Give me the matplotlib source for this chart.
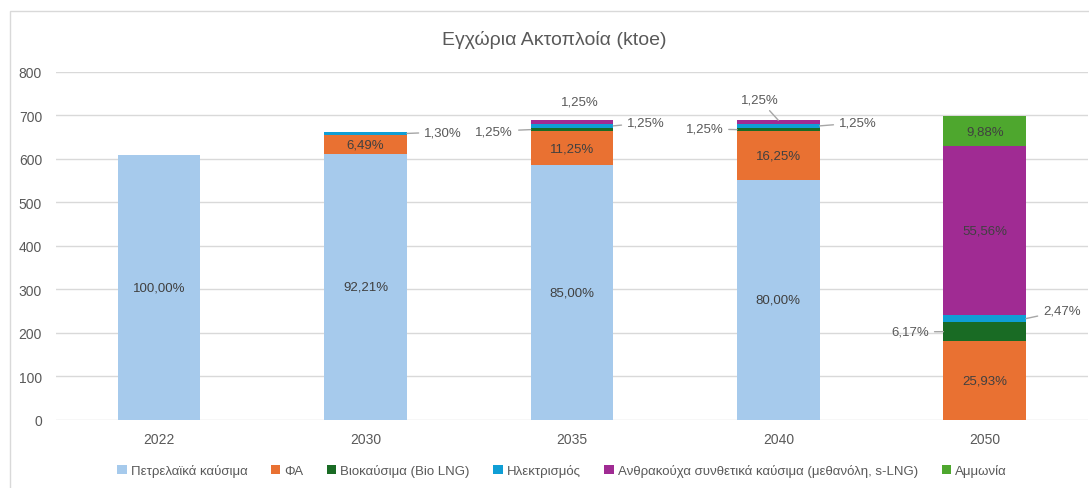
import numpy as np
import matplotlib.pyplot as plt
from matplotlib.patches import Rectangle

plt.rcParams['font.family'] = ['Liberation Sans', 'DejaVu Sans']

# ---------------- data ----------------
years = ['2022', '2030', '2035', '2040', '2050']
totals = [608, 662, 688, 688, 697]          # ktoe

series_names = ['Πετρελαϊκά καύσιμα', 'ΦΑ', 'Βιοκαύσιμα (Bio LNG)', 'Ηλεκτρισμός',
                'Ανθρακούχα συνθετικά καύσιμα (μεθανόλη, s-LNG)', 'Αμμωνία']
colors = ['#A6CAEC', '#E97132', '#196B24', '#0F9ED5', '#A02B93', '#4EA72E']

# shares in % per year (from the data labels)
oil_pct = [100.00, 92.21, 85.00, 80.00, 0]
fa_pct = [0, 6.49, 11.25, 16.25, 25.93]
bio_pct = [0, 0, 1.25, 1.25, 6.17]
elec_pct = [0, 1.30, 1.25, 1.25, 2.47]
synth_pct = [0, 0, 1.25, 1.25, 55.56]
ammonia_pct = [0, 0, 0, 0, 9.88]

shares = [oil_pct, fa_pct, bio_pct, elec_pct, synth_pct, ammonia_pct]

# labels for thin segments placed outside: (series, year) -> (x, y, ha, leader)
outside = {
    (3, 1): (1.284, 661, 'left', True),
    (2, 2): (1.715, 663, 'right', True),
    (3, 2): (2.267, 682, 'left', True),
    (4, 2): (2.04, 730, 'center', False),
    (2, 3): (2.733, 668, 'right', True),
    (3, 3): (3.294, 682, 'left', True),
    (4, 3): (2.91, 735, 'center', True),
    (2, 4): (3.73, 202, 'right', True),
    (3, 4): (4.283, 250, 'left', True),
}

# ---------------- plot ----------------
fig = plt.figure(figsize=(10.89, 4.89), dpi=100)
ax = fig.add_axes([0.0514, 0.1397, 0.9476, 0.712])

x = np.arange(len(years))
width = 0.4
bottom = np.zeros(len(years))

for s, (name, pct, col) in enumerate(zip(series_names, shares, colors)):
    vals = np.array(totals) * np.array(pct) / 100
    ax.bar(x, vals, width, bottom=bottom, color=col, label=name, zorder=3)
    for i, v in enumerate(vals):
        if v <= 0:
            continue
        mid = bottom[i] + v / 2
        txt = f'{pct[i]:.2f}%'.replace('.', ',')
        if (s, i) in outside:
            tx, ty, ha, leader = outside[(s, i)]
            if ha == 'left':
                px = i + width / 2
            elif ha == 'right':
                px = i - width / 2
            else:
                px = i
                mid = bottom[i] + v
            if leader:
                ax.annotate(txt, xy=(px, mid), xytext=(tx, ty), ha=ha, va='center',
                            fontsize=9.5, color='#595959',
                            arrowprops=dict(arrowstyle='-', color='#A6A6A6', lw=1,
                                            shrinkA=2, shrinkB=0))
            else:
                ax.text(tx, ty, txt, ha=ha, va='center', fontsize=9.5, color='#595959')
        else:
            ax.text(i, mid, txt, ha='center', va='center', fontsize=9.5, color='#404040',
                    zorder=4)
    bottom += vals

ax.set_xlim(-0.5, 4.5)
ax.set_ylim(0, 800)
ax.set_yticks(range(0, 801, 100))
ax.set_xticks(x)
ax.set_xticklabels(years)
ax.tick_params(axis='both', length=0, labelsize=10, colors='#595959')
ax.tick_params(axis='y', pad=10)
ax.tick_params(axis='x', pad=9)
ax.grid(axis='y', color='#D9D9D9', lw=1, zorder=0)
for sp in ax.spines.values():
    sp.set_visible(False)

fig.text(0.509, 0.918, 'Εγχώρια Ακτοπλοία (ktoe)', ha='center', va='center',
         fontsize=14, color='#595959')

fig.legend(loc='center', bbox_to_anchor=(0.516, 0.035), ncol=6, frameon=False,
           fontsize=9.5, handlelength=0.7, handleheight=0.7, handletextpad=0.3,
           columnspacing=1.8, labelcolor='#595959')

# chart frame
fig.patches.append(Rectangle((0.0092, -0.05), 1.2, 0.975 + 0.05, transform=fig.transFigure,
                             fill=False, edgecolor='#D9D9D9', lw=1))

fig.savefig('out.png', dpi=100)
